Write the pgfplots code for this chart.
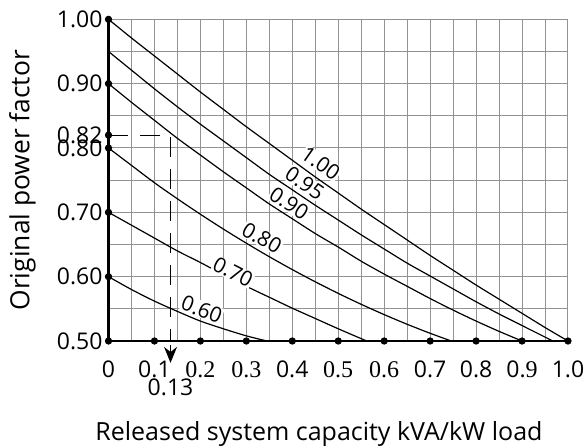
\documentclass[border=0pt]{standalone}
\usepackage{fontspec}
\setmainfont{Open Sans}
\newfontfamily\seriffont{Liberation Serif}
\newcommand\sr[1]{{\seriffont\fontsize{12}{14}\selectfont #1}}
\usepackage{pgfplots}
\pgfplotsset{compat=1.18}
\usetikzlibrary{arrows.meta}

\begin{document}
\begin{tikzpicture}
\begin{axis}[
  scale only axis, width=229.75pt, height=160.85pt,
  xmin=0, xmax=1, ymin=0.5, ymax=1,
  axis x line=bottom, axis y line=left,
  axis line style={-, line width=1.4pt},
  xtick={0,0.1,0.2,0.3,0.4,0.5,0.6,0.7,0.8,0.9,1.0},
  xticklabels={0,0.1,\sr{0.2},\sr{0.3},0.4,\sr{0.5},\sr{0.6},0.7,0.8,{0.\sr{9}},1.0},
  minor xtick={0.05,0.15,0.25,0.35,0.45,0.55,0.65,0.75,0.85,0.95},
  ytick={0.5,0.6,0.7,0.8,0.9,1.0},
  yticklabels={0.50,0.60,0.70,0.80,0.90,1.00},
  minor ytick={0.55,0.65,0.75,0.85,0.95},
  extra y ticks={0.82}, extra y tick labels={0.82},
  extra y tick style={grid=none},
  grid=both,
  major grid style={gray!85, line width=0.5pt},
  minor grid style={gray!85, line width=0.5pt},
  major tick length=0, minor tick length=0,
  tick label style={font=\fontsize{11.5}{13}\selectfont},
  yticklabel style={xshift=0.5pt},
  xticklabel style={yshift=-6.5pt},
  /pgf/number format/assume math mode=true,
  clip=false,
  xlabel={Released system capacity kVA/kW load},
  xlabel style={at={([yshift=-49.5pt]rel axis cs:0.458,0)}, anchor=base, font=\fontsize{12.5}{14}\selectfont},
  ylabel={Original power factor},
  ylabel style={at={([xshift=-43pt]rel axis cs:0,0.5)}, anchor=center, font=\fontsize{13.2}{15}\selectfont},
]
% target PF 1.00
\addplot[black, line width=0.6pt, smooth] coordinates {
(0,1.000)(0.05,0.971)(0.1,0.943)(0.15,0.915)(0.2,0.887)(0.25,0.860)(0.3,0.833)(0.35,0.807)(0.4,0.781)(0.45,0.755)(0.5,0.730)(0.55,0.705)(0.6,0.681)(0.65,0.657)(0.7,0.633)(0.75,0.610)(0.8,0.587)(0.85,0.565)(0.9,0.543)(0.95,0.521)(1.0,0.500)};
% target PF 0.95
\addplot[black, line width=0.6pt, smooth] coordinates {
(0,0.950)(0.05,0.921)(0.1,0.892)(0.15,0.864)(0.2,0.837)(0.25,0.811)(0.3,0.785)(0.35,0.759)(0.4,0.735)(0.45,0.711)(0.5,0.688)(0.55,0.665)(0.6,0.643)(0.65,0.621)(0.7,0.601)(0.75,0.581)(0.8,0.561)(0.85,0.542)(0.9,0.524)(0.967,0.500)};
% target PF 0.90
\addplot[black, line width=0.6pt, smooth] coordinates {
(0,0.900)(0.05,0.871)(0.1,0.843)(0.15,0.815)(0.2,0.789)(0.25,0.763)(0.3,0.738)(0.35,0.713)(0.4,0.690)(0.45,0.667)(0.5,0.646)(0.55,0.624)(0.6,0.604)(0.65,0.585)(0.7,0.566)(0.75,0.548)(0.8,0.531)(0.85,0.515)(0.9,0.500)};
% target PF 0.80
\addplot[black, line width=0.6pt, smooth] coordinates {
(0,0.800)(0.05,0.773)(0.1,0.746)(0.15,0.721)(0.2,0.697)(0.25,0.674)(0.3,0.652)(0.35,0.631)(0.4,0.611)(0.45,0.592)(0.5,0.574)(0.55,0.557)(0.6,0.541)(0.65,0.526)(0.7,0.512)(0.746,0.500)};
% target PF 0.70
\addplot[black, line width=0.6pt, smooth] coordinates {
(0,0.700)(0.05,0.680)(0.1,0.660)(0.15,0.640)(0.2,0.622)(0.25,0.603)(0.3,0.585)(0.35,0.568)(0.4,0.551)(0.45,0.535)(0.5,0.519)(0.562,0.500)};
% target PF 0.60
\addplot[black, line width=0.6pt, smooth] coordinates {
(0,0.600)(0.05,0.580)(0.1,0.562)(0.15,0.546)(0.2,0.531)(0.25,0.519)(0.3,0.508)(0.345,0.500)};
% example: 0.82 -> 0.13
\addplot[black, line width=0.6pt, dash pattern=on 10pt off 6pt] coordinates {(0,0.82)(0.135,0.82)(0.135,0.50)};
\addplot[black, line width=0.6pt, -{Stealth[length=8pt,width=6.5pt]}] coordinates {(0.135,0.494)(0.135,0.466)};
% tick dots
\addplot[only marks, mark=*, mark size=1.6pt, black] coordinates {
(0,0.5)(0.1,0.5)(0.2,0.5)(0.3,0.5)(0.4,0.5)(0.5,0.5)(0.6,0.5)(0.7,0.5)(0.8,0.5)(0.9,0.5)(1.0,0.5)
(0,0.6)(0,0.7)(0,0.8)(0,0.82)(0,0.9)(0,1.0)};
% curve labels
\begin{scope}[every node/.style={fill=white, inner sep=0.3pt, font=\fontsize{10.5}{12}\selectfont}]
\node[rotate=-35] at (axis cs:0.462,0.776) {1.00};
\node[rotate=-34] at (axis cs:0.427,0.745) {0.95};
\node[rotate=-33] at (axis cs:0.393,0.714) {0.90};
\node[rotate=-30] at (axis cs:0.334,0.660) {0.80};
\node[rotate=-27] at (axis cs:0.271,0.607) {0.70};
\node[rotate=-21] at (axis cs:0.203,0.549) {0.60};
\end{scope}
\node[font=\fontsize{11.5}{13}\selectfont] at (axis cs:0.135,0.4275) {0.13};
\coordinate (sw) at (rel axis cs:0,0);
\end{axis}
\pgfresetboundingbox
\path (sw) ++(-54.25pt,-52.5pt) rectangle ++(292.5pt,223pt);
\end{tikzpicture}
\end{document}
